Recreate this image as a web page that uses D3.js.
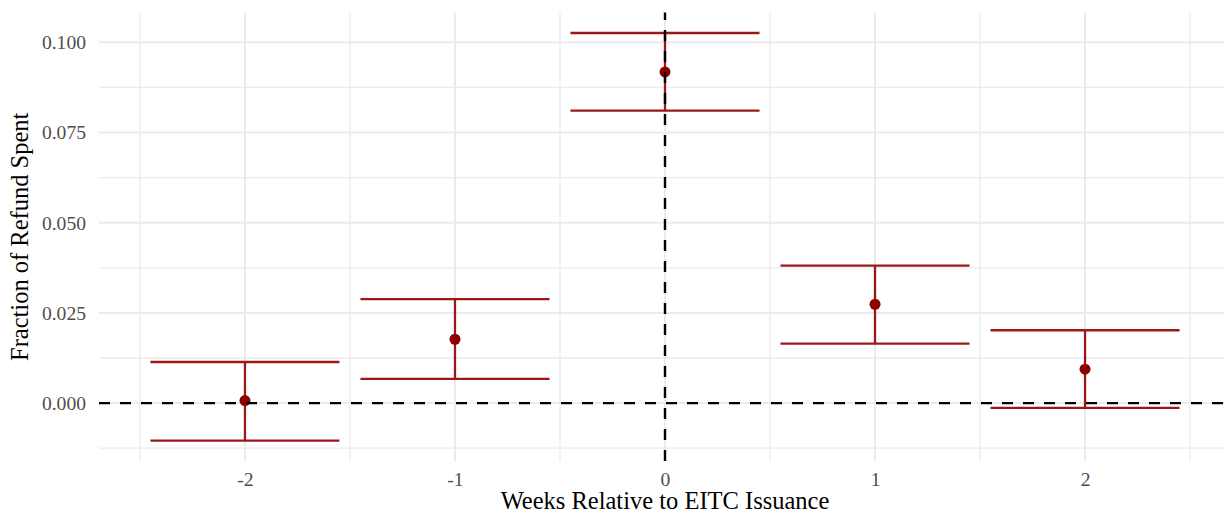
<!DOCTYPE html>
<html>
<head>
<meta charset="utf-8">
<script src="https://cdn.jsdelivr.net/npm/d3@7"></script>
<style>
  body { margin: 0; background: #fff; }
  svg text { font-family: "Liberation Serif", "Times New Roman", serif; }
</style>
</head>
<body>
<svg id="chart" width="1224" height="517"></svg>
<script>
// estimates
var weeks = [-2, -1, 0, 1, 2];
var estimate = [0.0007, 0.0177, 0.0918, 0.0274, 0.0094];
var upper = [0.0114, 0.0288, 0.1026, 0.0381, 0.0202];
var lower = [-0.0104, 0.0067, 0.0811, 0.0165, -0.0013];
var yTicks = [0, 0.025, 0.05, 0.075, 0.1];
var xTicks = [-2, -1, 0, 1, 2];

var svg = d3.select('#chart');

var margin = {top: 12.6, right: -7, bottom: 56, left: 99},
    width = 1224 - margin.left - margin.right,
    height = 517 - margin.top - margin.bottom;

var barHalf = 0.45; // errorbar width 0.9

// ggplot style 5% expansion
var xMin = d3.min(weeks) - barHalf, xMax = d3.max(weeks) + barHalf;
var xPad = (xMax - xMin) * 0.05;
var yMin = d3.min(lower), yMax = d3.max(upper);
var yPad = (yMax - yMin) * 0.05;

var x = d3.scaleLinear().domain([xMin - xPad, xMax + xPad]).range([0, width]);
var y = d3.scaleLinear().domain([yMin - yPad, yMax + yPad]).range([height, 0]);

var g = svg.append('g').attr('transform', 'translate(' + margin.left + ',' + margin.top + ')');

// minor grid
var xMinor = d3.range(-2.5, 2.51, 1);
var yMinor = d3.range(-0.0125, 0.11, 0.025);
g.selectAll('.xminor').data(xMinor).enter().append('line')
  .attr('x1', d => x(d)).attr('x2', d => x(d))
  .attr('y1', 0).attr('y2', height)
  .attr('stroke', '#ebebeb').attr('stroke-width', 1.3);
g.selectAll('.yminor').data(yMinor).enter().append('line')
  .attr('x1', 0).attr('x2', width)
  .attr('y1', d => y(d)).attr('y2', d => y(d))
  .attr('stroke', '#ebebeb').attr('stroke-width', 1.3);

// major grid
g.selectAll('.xmajor').data(xTicks).enter().append('line')
  .attr('x1', d => x(d)).attr('x2', d => x(d))
  .attr('y1', 0).attr('y2', height)
  .attr('stroke', '#ebebeb').attr('stroke-width', 2);
g.selectAll('.ymajor').data(yTicks).enter().append('line')
  .attr('x1', 0).attr('x2', width)
  .attr('y1', d => y(d)).attr('y2', d => y(d))
  .attr('stroke', '#ebebeb').attr('stroke-width', 2);

// axes (text only, like theme_minimal)
var xAxis = g.append('g').attr('transform', 'translate(0,' + height + ')')
  .call(d3.axisBottom(x).tickValues(xTicks).tickFormat(d => String(d)).tickSize(0).tickPadding(11));
var yAxis = g.append('g')
  .call(d3.axisLeft(y).tickValues(yTicks).tickFormat(d3.format('.3f')).tickSize(0).tickPadding(13));
[xAxis, yAxis].forEach(function(a) {
  a.select('.domain').remove();
  a.selectAll('text')
    .style('font-family', '"Liberation Serif", serif')
    .style('font-size', '19.6px')
    .attr('fill', '#4d4d4d');
});

var data = weeks.map(function(w, i) {
  return {week: w, est: estimate[i], hi: upper[i], lo: lower[i]};
});

var barColor = '#9c1818';

// error bars
var bars = g.selectAll('.errbar').data(data).enter().append('g');
bars.append('line')
  .attr('x1', d => x(d.week)).attr('x2', d => x(d.week))
  .attr('y1', d => y(d.lo)).attr('y2', d => y(d.hi))
  .attr('stroke', barColor).attr('stroke-width', 2.3);
bars.append('line')
  .attr('x1', d => x(d.week - barHalf)).attr('x2', d => x(d.week + barHalf))
  .attr('y1', d => y(d.hi)).attr('y2', d => y(d.hi))
  .attr('stroke', barColor).attr('stroke-width', 2.3);
bars.append('line')
  .attr('x1', d => x(d.week - barHalf)).attr('x2', d => x(d.week + barHalf))
  .attr('y1', d => y(d.lo)).attr('y2', d => y(d.lo))
  .attr('stroke', barColor).attr('stroke-width', 2.3);

// points
g.selectAll('.pt').data(data).enter().append('circle')
  .attr('cx', d => x(d.week)).attr('cy', d => y(d.est))
  .attr('r', 5.5)
  .attr('fill', '#8b0000');

// reference lines
g.append('line')
  .attr('x1', 0).attr('x2', width)
  .attr('y1', y(0)).attr('y2', y(0))
  .attr('stroke', '#000').attr('stroke-width', 2.4)
  .attr('stroke-dasharray', '11,10');
g.append('line')
  .attr('x1', x(0)).attr('x2', x(0))
  .attr('y1', height).attr('y2', 0)
  .attr('stroke', '#000').attr('stroke-width', 2.4)
  .attr('stroke-dasharray', '11,10');

// titles
svg.append('text')
  .attr('x', margin.left + x(0)).attr('y', 509)
  .attr('text-anchor', 'middle')
  .style('font-size', '24.5px')
  .attr('fill', '#000')
  .text('Weeks Relative to EITC Issuance');

svg.append('text')
  .attr('transform', 'translate(28,' + (margin.top + height / 2) + ') rotate(-90)')
  .attr('text-anchor', 'middle')
  .style('font-size', '24.5px')
  .attr('fill', '#000')
  .text('Fraction of Refund Spent');
</script>
</body>
</html>
